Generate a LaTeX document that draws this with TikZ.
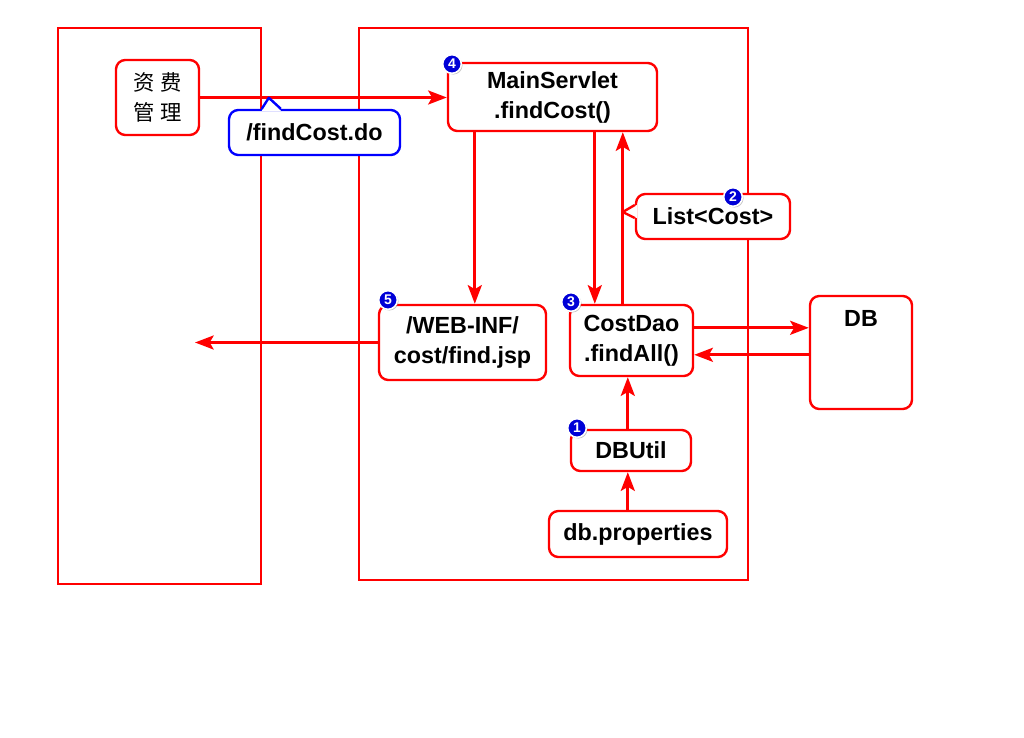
\documentclass[tikz,border=0pt]{standalone}
\usepackage{fontspec}
\setmainfont{Liberation Sans}
\newfontfamily\cjk{Noto Sans CJK SC}
\usetikzlibrary{arrows.meta,calc,shadows}

\definecolor{boxred}{RGB}{255,0,0}
\definecolor{tipblue}{RGB}{0,0,255}
\definecolor{badgeblue}{RGB}{0,0,215}

\tikzset{
  frame/.style={draw=boxred, line width=2pt},
  box/.style={draw=boxred, line width=1.8pt, fill=white, rounded corners=7pt,
    inner sep=0pt, align=center, font=\fontsize{17.5}{22.5}\selectfont\bfseries},
  callout/.style={box},
  badge/.style={circle, draw=white, line width=1.2pt, fill=badgeblue, inner sep=0pt,
    minimum size=14pt, text=white, font=\fontsize{10.5}{10.5}\selectfont\bfseries,
    drop shadow={shadow xshift=0.9pt, shadow yshift=-0.9pt, opacity=0.45}},
  arr/.style={draw=boxred, line width=2.1pt, -{Stealth[length=14pt,width=10.5pt,inset=3pt]}}
}

\begin{document}
\begin{tikzpicture}[x=0.75pt,y=0.75pt,yscale=-1,xscale=1]
\useasboundingbox (0,0) rectangle (1024,738);

%Shape: Rectangle [client]
\draw [frame] (58,28) rectangle (261,584);
%Shape: Rectangle [server]
\draw [frame] (359,28) rectangle (748,580);

% Boxes
\node [box, minimum width=62.25pt, minimum height=56.25pt,
  font=\cjk\fontsize{16}{22.5}\selectfont] (zf) at (157.5,97.5) {资\hspace{4pt}费\\管\hspace{4pt}理};
\node [box, minimum width=156.75pt, minimum height=51pt] (ms) at (552.5,97) {MainServlet\\.findCost()};
\node [box, minimum width=125.25pt, minimum height=56.25pt] (jsp) at (462.5,342.5) {/WEB-INF/\\cost/find.jsp};
\node [box, minimum width=92.25pt, minimum height=53.25pt] (dao) at (631.5,340.5) {CostDao\\.findAll()};
\node [box, minimum width=76.5pt, minimum height=84.75pt,
  label={[anchor=north, yshift=-8pt, font=\fontsize{17.5}{22.5}\selectfont\bfseries]north:DB}] (db) at (861,352.5) {};
\node [box, minimum width=90pt, minimum height=30.75pt] (du) at (631,450.5) {DBUtil};
\node [box, minimum width=133.5pt, minimum height=34.5pt] (dp) at (638,534) {db.properties};

% Anchor points of the connectors
\coordinate (msL) at ($(ms.south west)+(28,0)$);
\coordinate (msM) at ($(ms.south west)+(148,0)$);
\coordinate (msR) at ($(ms.south west)+(176,0)$);
\coordinate (daoE1) at ($(dao.north east)+(0,24)$);
\coordinate (daoE2) at ($(dao.north east)+(0,51)$);
\coordinate (daoB) at ($(dao.south west)+(59,0)$);
\coordinate (back) at (195,342.5);

%Straight Lines
\draw [arr] (zf.east) -- (zf.east -| ms.west);
\draw [arr] (msL) -- (msL |- jsp.north);
\draw [arr] (msM) -- (msM |- dao.north);
\draw [arr] (msR |- dao.north) -- (msR);
\draw [arr] (daoE1) -- (daoE1 -| db.west);
\draw [arr] (daoE2 -| db.west) -- (daoE2);
\draw [arr] (du.north -| daoB) -- (daoB);
\draw [arr] (dp.north -| daoB) -- (du.south -| daoB);
\draw [arr] (jsp.west) -- (back);

% Callouts
\node [callout, draw=tipblue, minimum width=128.25pt, minimum height=33.75pt] (fc) at (314.5,132.5) {/findCost.do};
\fill [white] ($(fc.north west)+(34,2)$) -- ($(fc.north west)+(41,-11)$) -- ($(fc.north west)+(53,2)$) -- cycle;
\draw [tipblue, line width=1.8pt, line join=round] ($(fc.north west)+(34,0)$) -- ($(fc.north west)+(41,-11)$) -- ($(fc.north west)+(53,0)$);

\node [callout, minimum width=115.5pt, minimum height=33.75pt] (lc) at (713,216.5) {List<Cost>};
\fill [white] ($(lc.west)+(2,-11.5)$) -- ($(lc.west)+(-12,-4.5)$) -- ($(lc.west)+(2,1.5)$) -- cycle;
\draw [boxred, line width=1.8pt, line join=round] ($(lc.west)+(0,-11.5)$) -- ($(lc.west)+(-12,-4.5)$) -- ($(lc.west)+(0,1.5)$);

% Badges
\node [badge] (b4) at (452,64) {4};
\node [badge] (b2) at (733,197) {2};
\node [badge] (b5) at (388,300) {5};
\node [badge] (b3) at (571,302) {3};
\node [badge] (b1) at (577,428) {1};

\end{tikzpicture}
\end{document}
